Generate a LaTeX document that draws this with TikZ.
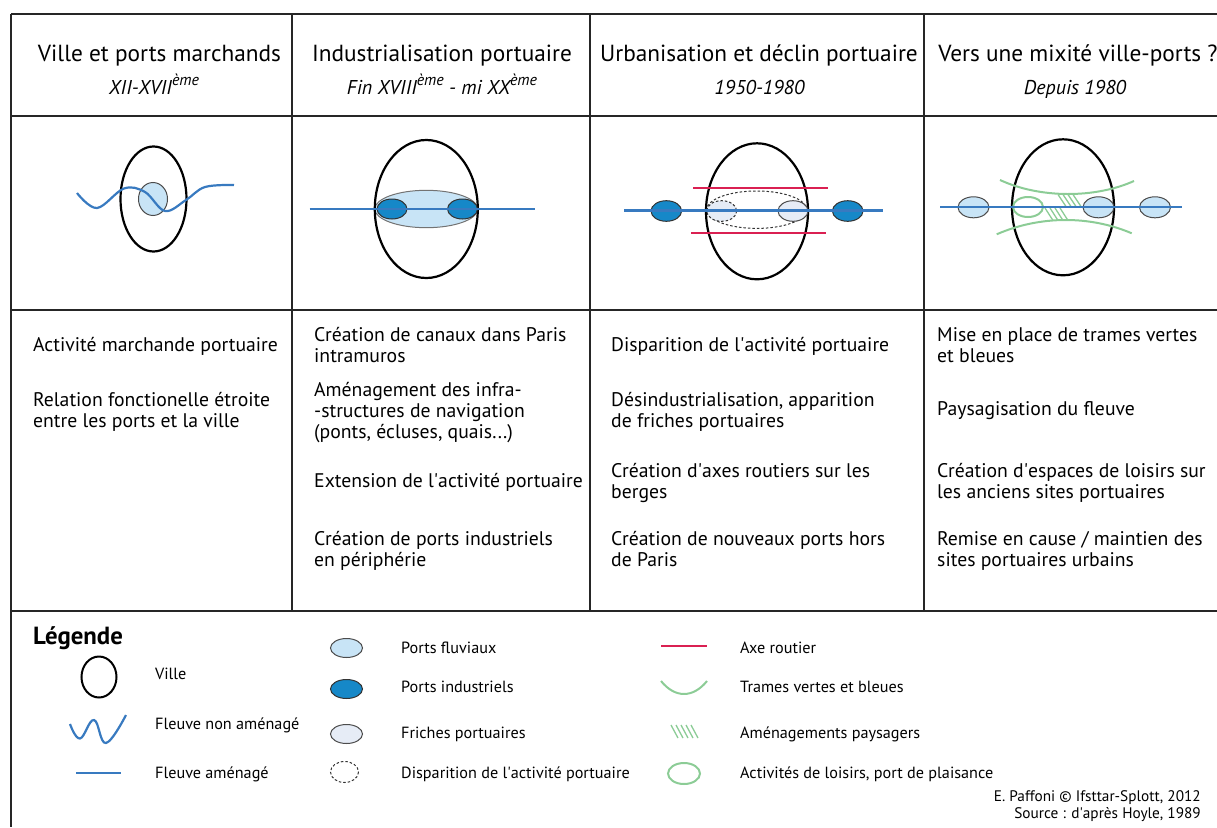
\documentclass[tikz,border=0pt]{standalone}
\usepackage{fontspec}
\setmainfont{PT Sans}
\usetikzlibrary{positioning}
\definecolor{riverblue}{RGB}{56,122,192}
\definecolor{portlight}{RGB}{200,228,246}
\definecolor{portdark}{RGB}{22,136,200}
\definecolor{fricheblue}{RGB}{230,236,246}
\definecolor{roadred}{RGB}{218,32,82}
\definecolor{greenway}{RGB}{140,204,150}
\newcommand{\eme}{\raisebox{0.42em}{\fontsize{16}{16}\selectfont ème}}
\newcommand{\apos}{\textquotesingle}
\tikzset{
    % frame and map styles
    frameline/.style={line width=2pt, draw=black!85},
    city/.style={draw=black, line width=2.2pt},
    river/.style={draw=riverblue, line width=2.2pt},
    portfluvial/.style={draw=black!70, line width=1pt, fill=portlight},
    portindus/.style={draw=black!80, line width=1pt, fill=portdark},
    friche/.style={draw=black!70, line width=1pt, fill=fricheblue},
    gone/.style={draw=black!80, line width=1pt, dash pattern=on 2.5pt off 2pt},
    road/.style={draw=roadred, line width=2.2pt},
    greenline/.style={draw=greenway, line width=2pt},
    hatch/.style={draw=greenway, line width=1.3pt},
    % text styles
    title/.style={anchor=base, inner sep=0pt, font=\fontsize{23.3}{26}\selectfont},
    period/.style={anchor=base, inner sep=0pt, font=\itshape\fontsize{20}{22}\selectfont},
    cellbody/.style={anchor=base west, align=left, inner sep=0pt, font=\fontsize{19.7}{21}\selectfont},
    legendtext/.style={anchor=base west, inner sep=0pt, font=\fontsize{16.2}{18}\selectfont}
}

\begin{document}
\begin{tikzpicture}[x=1pt, y=-1pt]
\useasboundingbox (0,0) rectangle (1217,827);

% Table frame
\draw[frameline] (11,14) -- (1217,14);
\draw[frameline] (11,116) -- (1217,116);
\draw[frameline] (11,310) -- (1217,310);
\draw[frameline] (11,611) -- (1217,611);
\draw[frameline] (11,14) -- (11,827);
\draw[frameline] (292,14) -- (292,611);
\draw[frameline] (590,14) -- (590,611);
\draw[frameline] (924,14) -- (924,611);

% Headers
\node[title] (title1) at (159.5,61) {Ville et ports marchands};
\node[title] (title2) at (442,61) {Industrialisation portuaire};
\node[title] (title3) at (759,61) {Urbanisation et déclin portuaire};
\node[title] (title4) at (1078,61) {Vers une mixité ville-ports ?};
\node[period] (period1) at (154,94) {XII-XVII\eme};
\node[period] (period2) at (442,94) {Fin XVIII\eme{} - mi XX\eme};
\node[period] (period3) at (759.5,94) {1950-1980};
\node[period] (period4) at (1075,94) {Depuis 1980};

% Cell 1 - wavy river through the merchant port
\draw[portfluvial] (153,199) ellipse [x radius=14.5, y radius=16.5];
\draw[city] (153.5,199) ellipse [x radius=33, y radius=52.5];
\draw[river] plot[smooth, tension=0.6] coordinates {(77,193) (97,208) (124,188.5) (145,192) (165,211) (186,200) (205,187) (234,185)};

% Cell 2 - industrial ports along a straight river
\draw[portfluvial, draw=black!55] (426.3,209) ellipse [x radius=51.5, y radius=18.7];
\draw[city] (426.3,209) ellipse [x radius=51.5, y radius=69];
\draw[portindus] (392,209) ellipse [x radius=15, y radius=10];
\draw[portindus] (462.5,209) ellipse [x radius=15, y radius=10];
\draw[river] (309.6,209.3) -- (535,209.3);

% Cell 3 - roads on the banks, wasteland, ports moved out
\draw[city] (757,211.3) ellipse [x radius=51, y radius=68];
\draw[road] (693,187.7) -- (828,187.7);
\draw[road] (691,233.3) -- (826,233.3);
\draw[gone] (756.7,209.7) ellipse [x radius=50, y radius=18.7];
\draw[portindus] (666.3,211) ellipse [x radius=15.3, y radius=10.3];
\draw[portindus] (847.7,211) ellipse [x radius=15.3, y radius=10.3];
\fill[fricheblue] (721.7,211) ellipse [x radius=15, y radius=10.3];
\draw[gone] (721.7,211) ellipse [x radius=15, y radius=10.3];
\draw[friche] (793,211) ellipse [x radius=15, y radius=10.3];
\draw[river] (624,210.5) -- (883,210.5);

% Cell 4 - green and blue corridors, leisure
\draw[city] (1063,207.3) ellipse [x radius=51, y radius=68];
\draw[greenline] (1000,180) .. controls (1040,198.5) and (1095,198.5) .. (1134,181);
\draw[greenline] (996.7,234.3) .. controls (1040,215.4) and (1090,215.4) .. (1131.7,233.3);
\foreach \k in {0,...,3} {
    \draw[hatch] (1058+5*\k,194.5) -- (1066+5*\k,206.5);
    \draw[hatch] (1045+5*\k,208) -- (1053+5*\k,220.5);
}
\draw[greenline] (1028,207) ellipse [x radius=15, y radius=10];
\draw[portfluvial] (973.5,207.3) ellipse [x radius=15.5, y radius=10.5];
\draw[portfluvial] (1098.5,207.3) ellipse [x radius=15.5, y radius=10.5];
\draw[portfluvial] (1155,207.3) ellipse [x radius=15.5, y radius=10.5];
\draw[river] (940,207) -- (1182,207);

% Body text (anchored on the last line)
\node[cellbody] (body1a) at (33,351) {Activité marchande portuaire};
\node[cellbody] (body1b) at (33,427) {Relation fonctionelle étroite\\entre les ports et la ville};

\node[cellbody] (body2a) at (314,362) {Création de canaux dans Paris\\intramuros};
\node[cellbody] (body2b) at (314,438) {Aménagement des infra-\\-structures de navigation\\(ponts, écluses, quais...)};
\node[cellbody] (body2c) at (314,487) {Extension de l\apos activité portuaire};
\node[cellbody] (body2d) at (314,566) {Création de ports industriels\\en périphérie};

\node[cellbody] (body3a) at (611,351) {Disparition de l\apos activité portuaire};
\node[cellbody] (body3b) at (611,427) {Désindustrialisation, apparition\\de friches portuaires};
\node[cellbody] (body3c) at (611,498) {Création d\apos axes routiers sur les\\berges};
\node[cellbody] (body3d) at (611,566) {Création de nouveaux ports hors\\de Paris};

\node[cellbody] (body4a) at (937,362) {Mise en place de trames vertes\\et bleues};
\node[cellbody] (body4b) at (937,415) {Paysagisation du fleuve};
\node[cellbody] (body4c) at (937,498) {Création d\apos espaces de loisirs sur\\les anciens sites portuaires};
\node[cellbody] (body4d) at (937,566) {Remise en cause / maintien des\\sites portuaires urbains};

% Legend
\node[anchor=base west, inner sep=0pt, font=\bfseries\fontsize{24.8}{28}\selectfont] (legend) at (33,644) {Légende};

\draw[city, line width=2pt] (99,677) ellipse [x radius=17.5, y radius=20.5];
\node[legendtext] (legville) at (155,679) {Ville};
\draw[river] plot[smooth, tension=0.7] coordinates {(70,724) (80,738.5) (94,720) (106,743) (126,715)};
\node[legendtext] (legwild) at (155,729) {Fleuve non aménagé};
\draw[river] (76,773.3) -- (120.7,773.3);
\node[legendtext] (legcanal) at (155,778) {Fleuve aménagé};

\draw[portfluvial] (346.5,648) ellipse [x radius=16, y radius=9.5];
\node[legendtext] (legfluvial) at (401,653) {Ports fluviaux};
\draw[portindus] (346.5,689) ellipse [x radius=16, y radius=9.5];
\node[legendtext] (legindus) at (401,692) {Ports industriels};
\draw[friche] (346.5,734) ellipse [x radius=16, y radius=9.5];
\node[legendtext] (legfriche) at (401,738) {Friches portuaires};
\draw[gone] (344.5,772) ellipse [x radius=14, y radius=10.5];
\node[legendtext] (leggone) at (401,778) {Disparition de l\apos activité portuaire};

\draw[road] (661,646) -- (707,646);
\node[legendtext] (legroad) at (740,653) {Axe routier};
\draw[greenline] (661,681) .. controls (675,698.3) and (693,698.3) .. (707,681);
\node[legendtext] (leggreen) at (740,692) {Trames vertes et bleues};
\foreach \k in {0,...,4} {
    \draw[hatch] (671+5*\k,725) -- (678+5*\k,738);
}
\node[legendtext] (leglandscape) at (740,738) {Aménagements paysagers};
\draw[greenline] (684,773.5) ellipse [x radius=16, y radius=10.5];
\node[legendtext] (legleisure) at (740,778) {Activités de loisirs, port de plaisance};

% Credits
\node[anchor=base east, align=right, inner sep=0pt, font=\fontsize{15.3}{16.5}\selectfont] (credits) at (1201,818) {E. Paffoni © Ifsttar-Splott, 2012\\Source : d\apos après Hoyle, 1989};

\end{tikzpicture}
\end{document}
